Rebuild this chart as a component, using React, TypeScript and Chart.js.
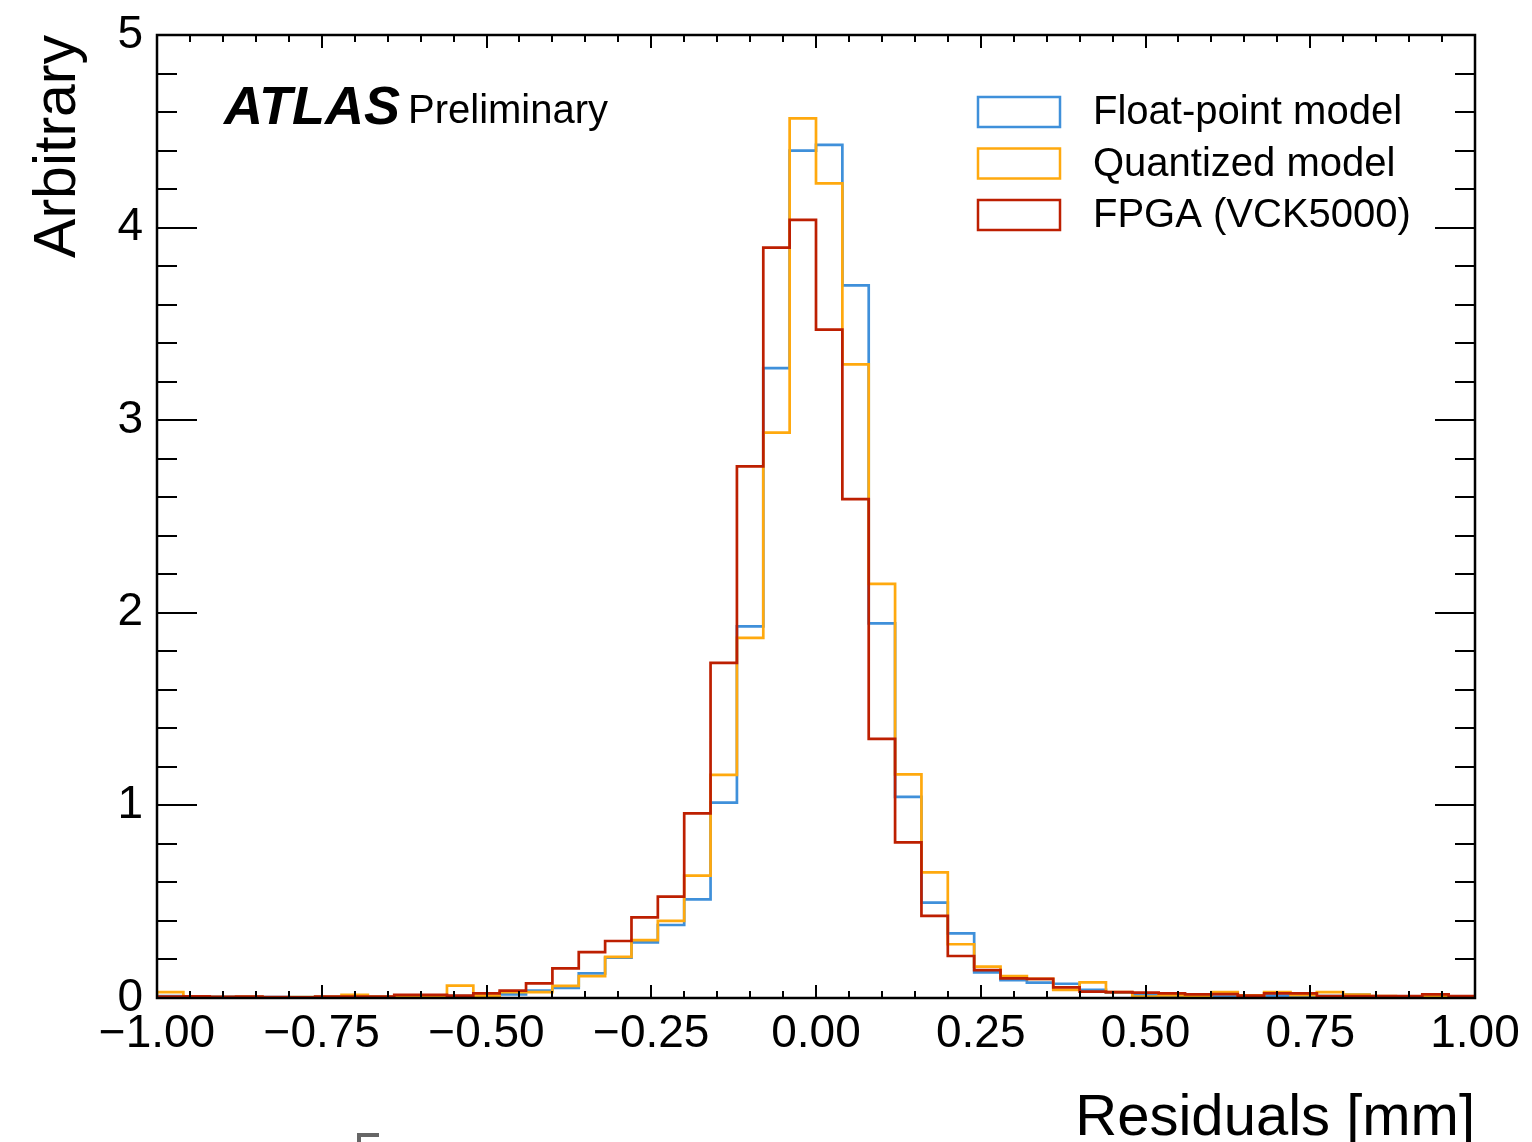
import React, { useEffect, useRef } from "react";
import { Chart, registerables } from "chart.js";

Chart.register(...registerables);

const FONT = "'Liberation Sans', Arial, Helvetica, sans-serif";

// Left edges of the 50 histogram bins (width 0.04 mm), last bin closes at 1.00
const binLeftEdges = [
  -1.0, -0.96, -0.92, -0.88, -0.84, -0.8, -0.76, -0.72, -0.68, -0.64,
  -0.6, -0.56, -0.52, -0.48, -0.44, -0.4, -0.36, -0.32, -0.28, -0.24,
  -0.2, -0.16, -0.12, -0.08, -0.04, 0.0, 0.04, 0.08, 0.12, 0.16,
  0.2, 0.24, 0.28, 0.32, 0.36, 0.4, 0.44, 0.48, 0.52, 0.56,
  0.6, 0.64, 0.68, 0.72, 0.76, 0.8, 0.84, 0.88, 0.92, 0.96,
];
const binRightEnd = 1.0;

const floatModel = [
  0.010, 0.008, 0.006, 0.006, 0.005, 0.005, 0.006, 0.006, 0.006, 0.008,
  0.008, 0.010, 0.008, 0.019, 0.038, 0.052, 0.128, 0.209, 0.289, 0.379,
  0.512, 1.014, 1.930, 3.270, 4.400, 4.430, 3.700, 1.945, 1.044, 0.495,
  0.336, 0.133, 0.093, 0.080, 0.074, 0.042, 0.028, 0.016, 0.010, 0.012,
  0.007, 0.010, 0.012, 0.007, 0.010, 0.018, 0.008, 0.008, 0.007, 0.008,
];

const quantizedModel = [
  0.030, 0.006, 0.005, 0.006, 0.004, 0.005, 0.006, 0.016, 0.006, 0.008,
  0.010, 0.064, 0.012, 0.030, 0.030, 0.063, 0.114, 0.214, 0.301, 0.400,
  0.635, 1.158, 1.870, 2.935, 4.567, 4.230, 3.290, 2.150, 1.161, 0.652,
  0.279, 0.163, 0.114, 0.099, 0.042, 0.081, 0.030, 0.007, 0.014, 0.012,
  0.030, 0.014, 0.030, 0.015, 0.030, 0.018, 0.010, 0.008, 0.010, 0.008,
];

const fpgaVCK5000 = [
  0.007, 0.008, 0.006, 0.007, 0.005, 0.004, 0.007, 0.007, 0.007, 0.016,
  0.016, 0.012, 0.024, 0.038, 0.076, 0.154, 0.238, 0.296, 0.419, 0.526,
  0.959, 1.740, 2.760, 3.896, 4.040, 3.470, 2.590, 1.345, 0.808, 0.426,
  0.218, 0.145, 0.102, 0.099, 0.055, 0.033, 0.030, 0.028, 0.024, 0.019,
  0.020, 0.012, 0.024, 0.024, 0.010, 0.010, 0.010, 0.010, 0.019, 0.010,
];

const seriesLabels = ["Float-point model", "Quantized model", "FPGA (VCK5000)"];
const seriesColors = ["#3f90da", "#ffa90e", "#bd1f01"];
const seriesValues = [floatModel, quantizedModel, fpgaVCK5000];

const xTickStep = 0.25;
const yTickStep = 1;
const xRange = [-1, 1];
const yRange = [0, 5];
const xMinorPerMajor = 5;
const yMinorPerMajor = 5;

const xTitle = "Residuals [mm]";
const yTitle = "Arbitrary";
const experimentLabel = "ATLAS";
const statusLabel = "Preliminary";

function stepPoints(values: number[]) {
  const pts: { x: number; y: number }[] = [{ x: binLeftEdges[0], y: 0 }];
  values.forEach((v, i) => pts.push({ x: binLeftEdges[i], y: v }));
  pts.push({ x: binRightEnd, y: values[values.length - 1] });
  pts.push({ x: binRightEnd, y: 0 });
  return pts;
}

function fmtX(v: number) {
  const s = Math.abs(v).toFixed(2);
  return v < -1e-9 ? "\u2212" + s : s;
}

const decorPlugin = {
  id: "decor",
  afterDraw(chart: any) {
    const { ctx, chartArea: a, scales } = chart;
    const xs = scales.x;
    const ys = scales.y;
    ctx.save();
    ctx.strokeStyle = "#000";
    ctx.lineWidth = 2;
    ctx.beginPath();
    // x ticks (inward, bottom and top)
    const nx = Math.round((xRange[1] - xRange[0]) / (xTickStep / xMinorPerMajor));
    for (let k = 0; k <= nx; k++) {
      const v = xRange[0] + (k * xTickStep) / xMinorPerMajor;
      const px = Math.round(xs.getPixelForValue(v));
      const len = k % xMinorPerMajor === 0 ? 13 : 7;
      ctx.moveTo(px, a.bottom);
      ctx.lineTo(px, a.bottom - len);
      ctx.moveTo(px, a.top);
      ctx.lineTo(px, a.top + len);
    }
    // y ticks (inward, left and right)
    const ny = Math.round((yRange[1] - yRange[0]) / (yTickStep / yMinorPerMajor));
    for (let k = 0; k <= ny; k++) {
      const v = yRange[0] + (k * yTickStep) / yMinorPerMajor;
      const py = Math.round(ys.getPixelForValue(v));
      const len = k % yMinorPerMajor === 0 ? 40 : 20;
      ctx.moveTo(a.left, py);
      ctx.lineTo(a.left + len, py);
      ctx.moveTo(a.right, py);
      ctx.lineTo(a.right - len, py);
    }
    ctx.stroke();
    // frame
    ctx.lineWidth = 2.5;
    ctx.strokeRect(a.left, a.top, a.right - a.left, a.bottom - a.top);

    // ATLAS label
    ctx.fillStyle = "#000";
    ctx.textBaseline = "alphabetic";
    ctx.textAlign = "left";
    ctx.font = `italic bold 54px ${FONT}`;
    ctx.fillText(experimentLabel, 224, 124);
    ctx.font = `40px ${FONT}`;
    ctx.fillText(statusLabel, 408, 123);

    // legend
    const boxX = 978;
    const boxW = 82;
    const boxH = 30;
    const firstTop = 97;
    const rowGap = 51.5;
    ctx.lineWidth = 2.5;
    ctx.textBaseline = "middle";
    ctx.font = `40px ${FONT}`;
    seriesLabels.forEach((lab, i) => {
      const top = firstTop + i * rowGap;
      ctx.strokeStyle = seriesColors[i];
      ctx.strokeRect(boxX, top, boxW, boxH);
      ctx.fillStyle = "#000";
      ctx.fillText(lab, 1093, top + boxH / 2 + 1);
    });

    // clipped grey mark at the bottom edge of the picture
    ctx.fillStyle = "#666";
    ctx.fillRect(357, 1133, 22, 4);
    ctx.fillRect(357, 1133, 4, 9);
    ctx.restore();
  },
};

export default function App() {
  const ref = useRef<HTMLCanvasElement | null>(null);
  useEffect(() => {
    if (!ref.current) return;
    const chart = new Chart(ref.current, {
      type: "line",
      data: {
        datasets: seriesValues.map((vals, i) => ({
          label: seriesLabels[i],
          data: stepPoints(vals),
          borderColor: seriesColors[i],
          backgroundColor: seriesColors[i],
          borderWidth: 2.7,
          pointRadius: 0,
          pointHoverRadius: 0,
          fill: false,
          stepped: true,
          tension: 0,
          order: seriesLabels.length - i,
        })),
      },
      options: {
        responsive: false,
        animation: false,
        devicePixelRatio: 1,
        layout: { padding: 0 },
        plugins: {
          legend: { display: false },
          tooltip: { enabled: false },
          title: { display: false },
        },
        scales: {
          x: {
            type: "linear",
            min: xRange[0],
            max: xRange[1],
            grid: { display: false, drawTicks: false },
            border: { display: false },
            ticks: {
              stepSize: xTickStep,
              autoSkip: false,
              maxRotation: 0,
              minRotation: 0,
              padding: 9,
              color: "#000",
              font: { size: 46, family: FONT },
              callback: (v: any) => fmtX(Number(v)),
            },
            title: {
              display: true,
              text: xTitle,
              align: "end",
              color: "#000",
              font: { size: 58, family: FONT, lineHeight: 0.8 },
              padding: { top: 0, bottom: 0 },
            },
            afterFit: (s: any) => {
              s.height = 144;
              s.paddingLeft = 0;
              s.paddingRight = 57;
            },
          },
          y: {
            type: "linear",
            min: yRange[0],
            max: yRange[1],
            grid: { display: false, drawTicks: false },
            border: { display: false },
            ticks: {
              stepSize: yTickStep,
              padding: 14,
              color: "#000",
              font: { size: 46, family: FONT },
              callback: (v: any) => String(Number(v)),
            },
            title: {
              display: true,
              text: yTitle,
              align: "end",
              color: "#000",
              font: { size: 59, family: FONT, lineHeight: 1.0 },
              padding: { top: 29, bottom: 0 },
            },
            afterFit: (s: any) => {
              s.width = 157;
              s.paddingTop = 35;
              s.paddingBottom = 0;
            },
          },
        },
      },
      plugins: [decorPlugin],
    });
    return () => chart.destroy();
  }, []);

  return (
    <div style={{ position: "fixed", left: 0, top: 0, width: 1532, height: 1142, background: "#fff" }}>
      <canvas ref={ref} width={1532} height={1142} style={{ display: "block" }} />
    </div>
  );
}
